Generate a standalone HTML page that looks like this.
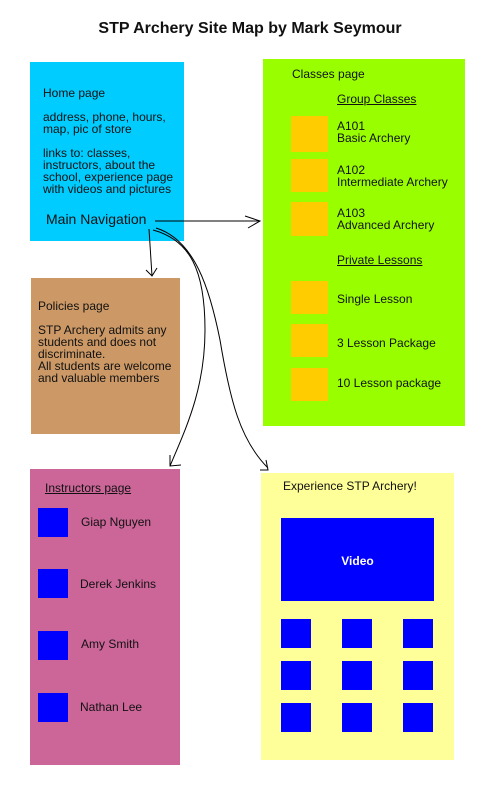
<!DOCTYPE html>
<html><head><meta charset="utf-8"><style>
body{margin:0;width:500px;height:800px;background:#fff;position:relative;overflow:hidden;font-family:"Liberation Sans",Arial,sans-serif;color:#111}
.a{position:absolute}
.t{position:absolute;font-size:12px;line-height:12px;white-space:nowrap}
.o{position:absolute;background:#ffcc00;width:37px;height:34px;left:291px}
.b{position:absolute;background:#0000ff;width:30px;height:29px}
</style></head><body>
<div class="t" style="left:0;width:500px;text-align:center;top:20px;font-size:16px;font-weight:bold;line-height:18px">STP Archery Site Map by Mark Seymour</div>

<div class="a" style="left:30px;top:62px;width:154px;height:179px;background:#00ccff"></div>
<div class="t" style="left:43px;top:87px">Home page</div>
<div class="t" style="left:43px;top:111px">address, phone, hours,<br>map, pic of store</div>
<div class="t" style="left:43px;top:147px">links to: classes,<br>instructors, about the<br>school, experience page<br>with videos and pictures</div>
<div class="t" style="left:46px;top:212px;font-size:14px;line-height:14px">Main Navigation</div>

<div class="a" style="left:31px;top:278px;width:149px;height:156px;background:#cc9966"></div>
<div class="t" style="left:38px;top:300px">Policies page</div>
<div class="t" style="left:38px;top:324px">STP Archery admits any<br>students and does not<br>discriminate.<br>All students are welcome<br>and valuable members</div>

<div class="a" style="left:263px;top:59px;width:202px;height:367px;background:#99ff00"></div>
<div class="t" style="left:292px;top:68px">Classes page</div>
<div class="t" style="left:337px;top:93px;text-decoration:underline">Group Classes</div>
<div class="o" style="top:116px;height:36px"></div>
<div class="t" style="left:337px;top:120px">A101<br>Basic Archery</div>
<div class="o" style="top:159px;height:33px"></div>
<div class="t" style="left:337px;top:164px">A102<br>Intermediate Archery</div>
<div class="o" style="top:202px"></div>
<div class="t" style="left:337px;top:207px">A103<br>Advanced Archery</div>
<div class="t" style="left:337px;top:254px;text-decoration:underline">Private Lessons</div>
<div class="o" style="top:281px;height:33px"></div>
<div class="t" style="left:337px;top:293px">Single Lesson</div>
<div class="o" style="top:324px;height:33px"></div>
<div class="t" style="left:337px;top:337px">3 Lesson Package</div>
<div class="o" style="top:368px;height:33px"></div>
<div class="t" style="left:337px;top:377px">10 Lesson package</div>

<div class="a" style="left:30px;top:469px;width:150px;height:296px;background:#cc6699"></div>
<div class="t" style="left:45px;top:482px;text-decoration:underline">Instructors page</div>
<div class="b" style="left:38px;top:508px"></div><div class="t" style="left:81px;top:516px">Giap Nguyen</div>
<div class="b" style="left:38px;top:569px"></div><div class="t" style="left:80px;top:578px">Derek Jenkins</div>
<div class="b" style="left:38px;top:631px"></div><div class="t" style="left:81px;top:638px">Amy Smith</div>
<div class="b" style="left:38px;top:693px"></div><div class="t" style="left:80px;top:701px">Nathan Lee</div>

<div class="a" style="left:261px;top:473px;width:193px;height:287px;background:#ffff99"></div>
<div class="t" style="left:283px;top:480px">Experience STP Archery!</div>
<div class="a" style="left:281px;top:518px;width:153px;height:83px;background:#0000ff;color:#fff;font-weight:bold;font-size:12px;line-height:86px;text-align:center">Video</div>
<div class="b" style="left:281px;top:619px"></div><div class="b" style="left:342px;top:619px"></div><div class="b" style="left:403px;top:619px"></div>
<div class="b" style="left:281px;top:661px"></div><div class="b" style="left:342px;top:661px"></div><div class="b" style="left:403px;top:661px"></div>
<div class="b" style="left:281px;top:703px"></div><div class="b" style="left:342px;top:703px"></div><div class="b" style="left:403px;top:703px"></div>

<svg class="a" style="left:0;top:0" width="500" height="800" fill="none" stroke="#000" stroke-width="1">
<path d="M155 221 L260 221 M245 216 L260 221 L248 228"/>
<path d="M149 229 L152 276 M146 270 L152 276 L157 268"/>
<path d="M153 230 C190 240 205 270 205 330 C205 390 185 430 170 466 M170 455 L170 466 L181 465"/>
<path d="M156 228 C195 240 210 290 220 340 C230 400 240 440 268 468 M266 460 L268 470 L260 470"/>
</svg>
</body></html>
